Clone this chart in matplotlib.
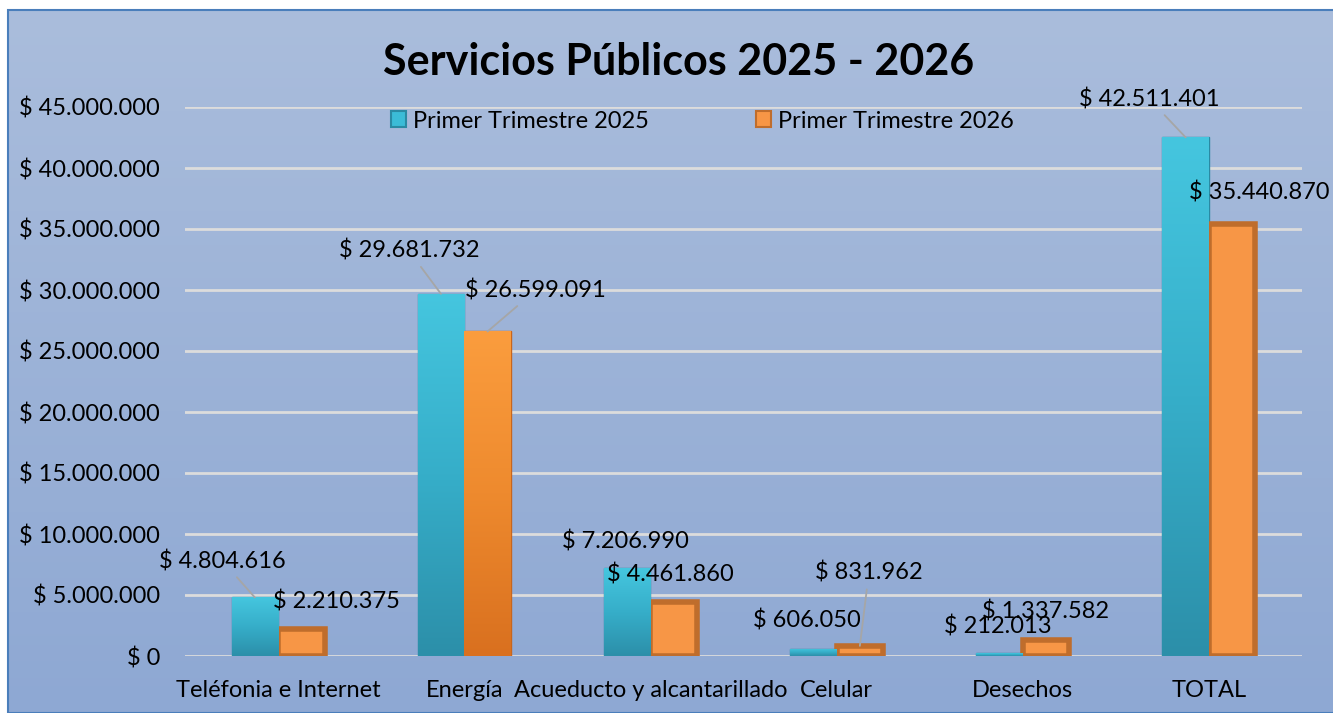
import numpy as np
import matplotlib
matplotlib.use('Agg')
import matplotlib.pyplot as plt
from matplotlib.colors import LinearSegmentedColormap
from matplotlib.patches import Rectangle

plt.rcParams['font.family'] = ['Lato', 'DejaVu Sans']

# data
categories = ['Teléfonia e Internet', 'Energía', 'Acueducto y alcantarillado',
              'Celular', 'Desechos', 'TOTAL']
series_names = ['Primer Trimestre 2025', 'Primer Trimestre 2026']
values_2025 = [4804616, 29681732, 7206990, 606050, 212013, 42511401]
values_2026 = [2210375, 26599091, 4461860, 831962, 1337582, 35440870]
y_ticks = [0, 5e6, 10e6, 15e6, 20e6, 25e6, 30e6, 35e6, 40e6, 45e6]

# label offsets in pixels (dx, dy) and whether a leader line is drawn
offs_2025 = [(-32, 36, True), (-32, 43, True), (-2, 27, False),
             (-6, 28, False), (-2, 27, False), (-36, 38, True)]
offs_2026 = [(35, 28, False), (48, 41, True), (-3, 27, False),
             (9, 73, True), (-1, 28, False), (27, 31, False)]

FS = 17


def fmt(v):
    return '$ ' + f'{int(v):,}'.replace(',', '.')


fig = plt.figure(figsize=(13.33, 7.13), dpi=100)
fig.patch.set_facecolor('white')

# background gradient panel
bg = fig.add_axes([0, 0, 1, 1], zorder=0)
bg_cmap = LinearSegmentedColormap.from_list('bg', ['#aabddc', '#8ea8d3'])
grad = np.linspace(0, 1, 256).reshape(-1, 1)
bg.imshow(grad, cmap=bg_cmap, aspect='auto',
          extent=[8 / 1333, 1, 0, 1 - 10 / 713], transform=bg.transAxes)
bg.add_patch(Rectangle((8 / 1333, 0), 1, 1 - 10 / 713, fill=False,
                       edgecolor='#4a7ebb', lw=1.5, transform=bg.transAxes))
bg.set_xlim(0, 1)
bg.set_ylim(0, 1)
bg.axis('off')

ax = fig.add_axes([185 / 1333, 1 - 656 / 713, 1117 / 1333, 549 / 713], zorder=1)
ax.patch.set_alpha(0)

x = np.arange(len(categories))
w = 0.25
bars1 = ax.bar(x - w / 2, values_2025, w, color='#3bbcd7', edgecolor='#2a8aa3',
               lw=1, zorder=3, label=series_names[0])
bars2 = ax.bar(x + w / 2, values_2026, w, color='#f79646', edgecolor='#bf6d2c',
               lw=4, zorder=3, label=series_names[1])

# shaded fills for the bevelled bars
cyan_cmap = LinearSegmentedColormap.from_list('cy', ['#2c8fa9', '#36aec9', '#45c6df'])
orange_cmap = LinearSegmentedColormap.from_list('or', ['#d9701f', '#ee8a2e', '#fb9d3e'])
for b in bars1:
    bx, by, bw, bh = b.get_x(), b.get_y(), b.get_width(), b.get_height()
    im = ax.imshow(grad, cmap=cyan_cmap, aspect='auto', origin='lower',
                   extent=[bx, bx + bw, by, by + bh], zorder=3.5)
    im.set_clip_path(b)
b = bars2[1]
b.set_linewidth(1)
b.set_edgecolor('#c9661c')
bx, by, bw, bh = b.get_x(), b.get_y(), b.get_width(), b.get_height()
im = ax.imshow(grad, cmap=orange_cmap, aspect='auto', origin='lower',
               extent=[bx, bx + bw, by, by + bh], zorder=3.5)
im.set_clip_path(b)

# data labels
for bars, vals, offs in [(bars1, values_2025, offs_2025), (bars2, values_2026, offs_2026)]:
    for b, v, (dx, dy, lead) in zip(bars, vals, offs):
        ap = dict(arrowstyle='-', color='#a6a6a6', lw=1.3, shrinkA=2, shrinkB=0) if lead else None
        ax.annotate(fmt(v), xy=(b.get_x() + b.get_width() / 2, v),
                    xytext=(dx, dy), textcoords='offset pixels',
                    ha='center', va='center', fontsize=FS, color='black',
                    arrowprops=ap, zorder=6)

ax.set_xlim(-0.5, len(categories) - 0.5)
ax.set_ylim(0, 45e6)
ax.set_yticks(y_ticks)
ax.set_yticklabels([fmt(t) for t in y_ticks], fontsize=FS)
ax.set_xticks(x)
ax.set_xticklabels(categories, fontsize=FS)
ax.tick_params(axis='y', length=0, pad=18)
ax.tick_params(axis='x', length=0, pad=17)
ax.grid(axis='y', color='#dcdcdc', lw=2, zorder=1)
ax.set_axisbelow(True)
for s in ax.spines.values():
    s.set_visible(False)

fig.text(0.509, 1 - 62 / 713, 'Servicios Públicos 2025 - 2026', ha='center', va='center',
         fontsize=31, fontweight='bold')

leg = fig.legend(handles=[bars1, bars2], labels=series_names, ncol=2,
                 loc='center', bbox_to_anchor=(0.527, 1 - 121 / 713), frameon=False,
                 fontsize=FS, handlelength=0.65, handleheight=0.65, handletextpad=0.3,
                 columnspacing=4.5)
for h in leg.legend_handles:
    h.set_linewidth(1.5)

fig.savefig('out.png', dpi=100)
